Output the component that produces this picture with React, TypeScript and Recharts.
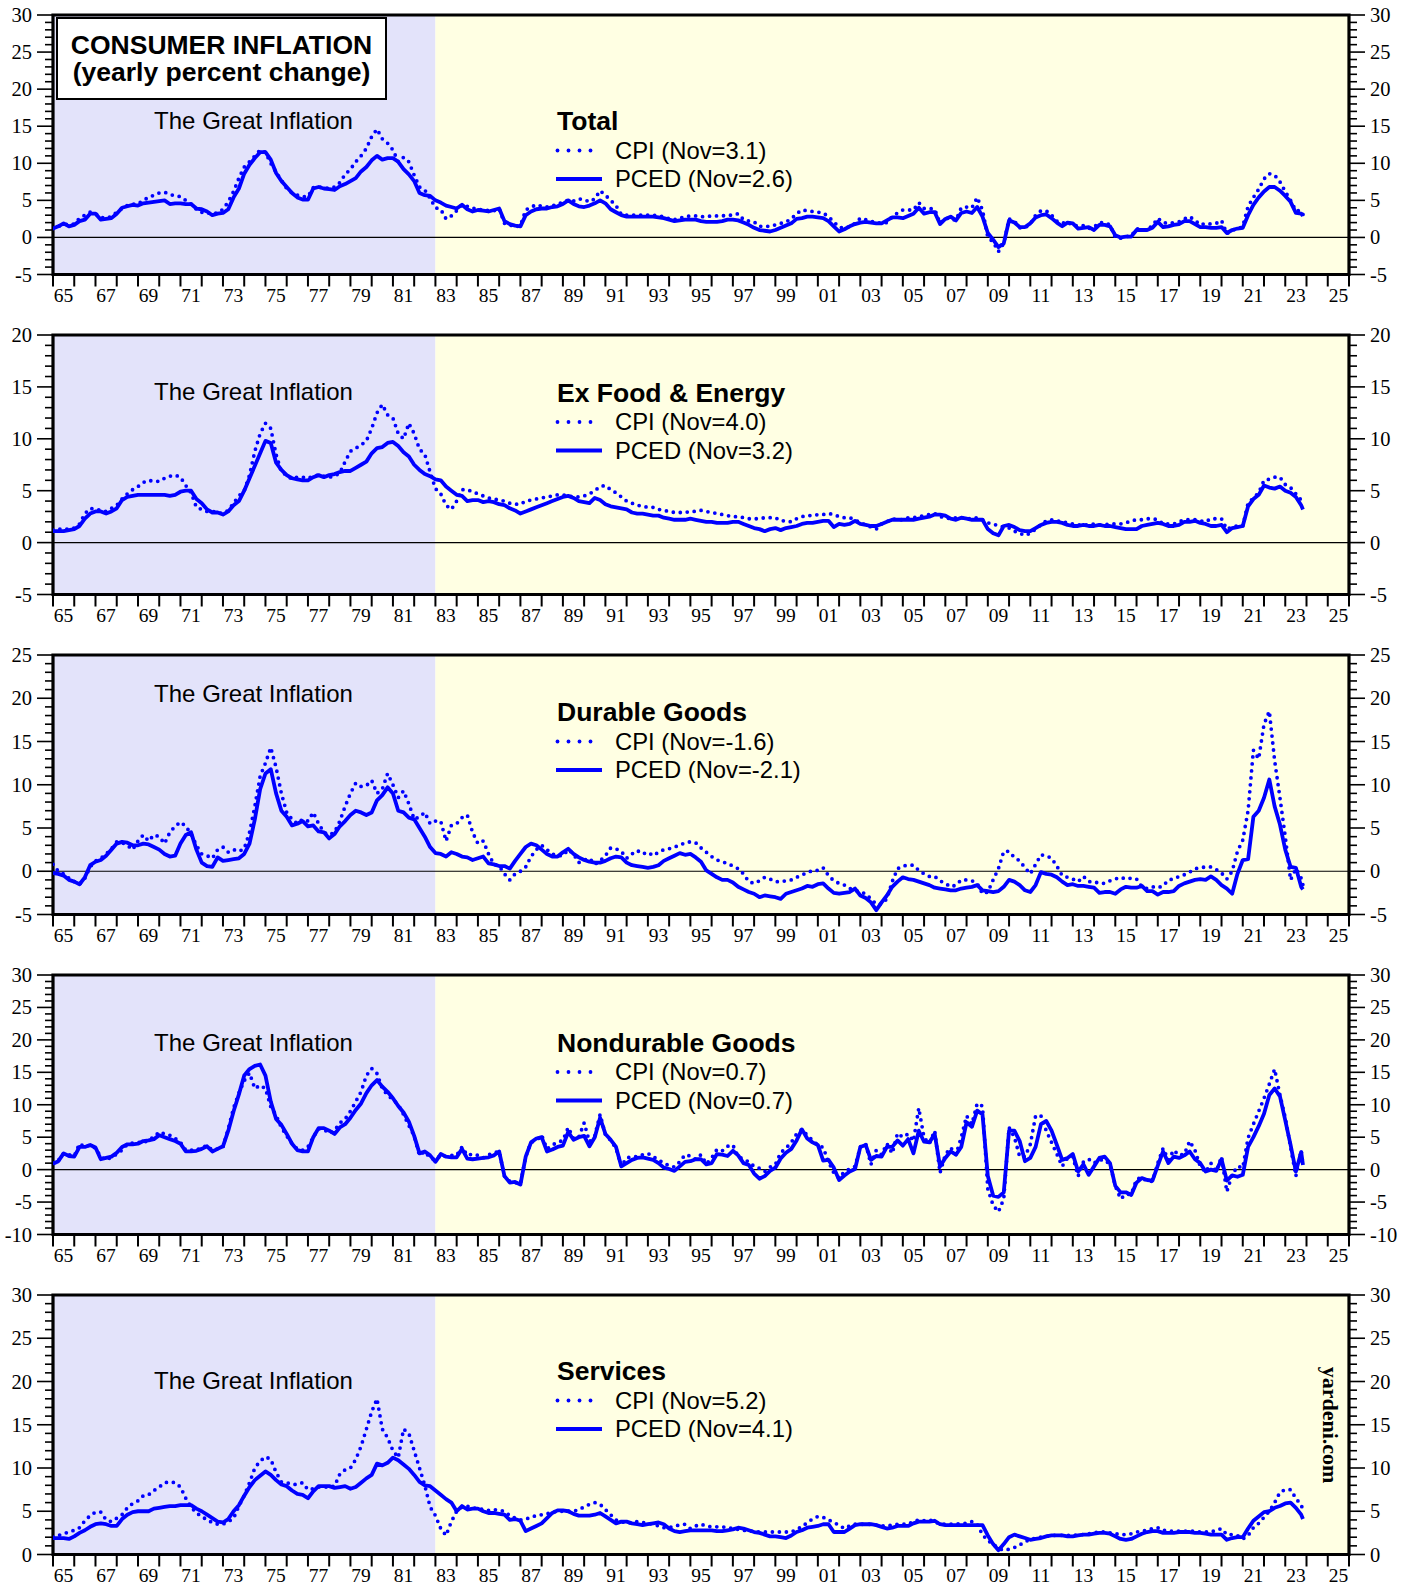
import React from "react";
import { LineChart, Line, XAxis, YAxis, ReferenceArea, ReferenceLine } from "recharts";

// ---------- categories ----------
const START_YEAR = 1965;
const QUARTERS = 236; // 1965Q1 .. 2023Q4
const LAST_MONTH = 2023 + 10 / 12; // Nov 2023
const dates: number[] = Array.from({ length: QUARTERS }, (_, i) => START_YEAR + i / 4).concat([LAST_MONTH]);
const yearTicks: number[] = Array.from({ length: 62 }, (_, i) => 1965 + i);
const GREAT_INFLATION_END = 1983;

// ---------- series (yearly % change), quarterly 1965..2023 + Nov 2023 ----------
const totalCpi = [
  1.2, 1.5, 1.7, 1.8, 1.8, 2.6, 3.0, 3.4, 3.2, 2.7, 2.6, 2.8, 3.4, 3.9, 4.3, 4.5,
  4.5, 5.0, 5.4, 5.7, 6.0, 6.1, 5.8, 5.6, 5.5, 5.0, 4.5, 3.8, 3.4, 3.3, 3.2, 3.3,
  3.8, 4.8, 6.2, 8.0, 9.5, 10.2, 11.0, 11.8, 11.5, 10.0, 8.8, 7.7, 6.6, 6.0, 5.7, 5.5,
  5.5, 6.7, 6.8, 6.7, 6.6, 6.8, 7.4, 8.5, 9.2, 10.2, 11.0, 12.0, 13.6, 14.6, 13.3, 12.7,
  11.8, 10.2, 10.8, 10.2, 8.4, 6.8, 6.4, 5.3, 4.0, 3.8, 2.5, 2.9, 3.6, 4.4, 4.2, 4.0,
  3.7, 3.8, 3.6, 3.6, 3.9, 1.9, 1.7, 1.4, 1.6, 3.7, 4.1, 4.4, 4.2, 4.1, 4.3, 4.4,
  4.8, 5.0, 4.9, 5.2, 5.1, 4.8, 5.2, 6.3, 5.7, 5.0, 4.3, 3.1, 3.0, 3.0, 3.0, 3.0,
  3.0, 3.0, 2.9, 2.8, 2.5, 2.4, 2.6, 2.8, 2.9, 2.9, 2.8, 2.8, 2.9, 2.9, 2.9, 3.0,
  3.0, 3.2, 2.4, 2.2, 2.1, 1.5, 1.5, 1.5, 1.7, 1.9, 2.1, 2.5, 3.2, 3.7, 3.6, 3.5,
  3.4, 3.3, 2.8, 2.1, 1.4, 1.2, 1.5, 1.9, 2.6, 2.4, 2.2, 2.0, 1.9, 2.0, 2.8, 3.3,
  3.7, 3.7, 3.7, 4.7, 3.9, 3.9, 3.8, 1.9, 2.6, 2.5, 2.3, 4.0, 4.1, 4.0, 5.4, 3.7,
  0.0, -0.6, -1.9, -0.8, 2.5, 2.2, 1.3, 1.3, 1.8, 3.0, 3.6, 3.6, 3.0, 2.2, 1.9, 2.1,
  1.6, 1.6, 1.6, 1.2, 1.4, 2.0, 2.0, 1.7, 0.0, -0.1, 0.1, 0.2, 1.2, 1.0, 1.0, 1.6,
  2.6, 2.0, 1.9, 2.0, 2.1, 2.5, 2.8, 2.3, 1.7, 1.9, 1.8, 1.9, 2.3, 0.5, 1.0, 1.1,
  1.5, 4.2, 5.4, 6.5, 7.9, 8.6, 8.4, 7.5, 6.2, 5.0, 3.6, 3.6,
  3.1,
];
const totalPced = [
  1.2, 1.5, 1.9, 1.5, 1.7, 2.2, 2.4, 3.2, 3.2, 2.4, 2.5, 2.6, 3.2, 4.0, 4.2, 4.4,
  4.3, 4.6, 4.7, 4.8, 4.9, 5.0, 4.5, 4.6, 4.6, 4.5, 4.5, 3.9, 3.8, 3.5, 3.0, 3.2,
  3.3, 3.8, 5.4, 6.6, 8.6, 9.8, 10.7, 11.5, 11.5, 10.5, 8.7, 7.6, 6.8, 6.0, 5.4, 5.1,
  5.1, 6.6, 6.8, 6.6, 6.5, 6.4, 6.9, 7.2, 7.6, 8.0, 8.9, 9.5, 10.4, 11.0, 10.5, 10.7,
  10.7, 10.2, 9.2, 8.5, 7.6, 6.0, 5.7, 5.6, 5.0, 4.7, 4.3, 4.1, 3.9, 4.4, 3.8, 3.5,
  3.7, 3.6, 3.5, 3.7, 3.9, 2.2, 1.8, 1.6, 1.5, 3.0, 3.5, 3.8, 3.9, 3.9, 4.1, 4.2,
  4.5, 5.0, 4.5, 4.2, 4.1, 4.3, 4.6, 5.0, 4.6, 3.8, 3.4, 3.0, 2.8, 2.8, 2.8, 2.8,
  2.8, 2.8, 2.7, 2.6, 2.4, 2.2, 2.3, 2.4, 2.4, 2.4, 2.2, 2.1, 2.1, 2.1, 2.2, 2.4,
  2.4, 2.3, 2.0, 1.7, 1.3, 1.0, 0.9, 0.8, 1.0, 1.3, 1.6, 1.9, 2.5, 2.6, 2.8, 2.8,
  2.7, 2.6, 2.2, 1.5, 0.8, 1.1, 1.5, 1.8, 2.0, 2.1, 2.0, 1.9, 1.9, 2.3, 2.7, 2.7,
  2.6, 2.9, 3.2, 4.0, 3.2, 3.4, 3.4, 1.8, 2.5, 2.8, 2.3, 3.3, 3.5, 3.3, 4.1, 2.8,
  0.6, -0.3, -1.3, -0.8, 2.3, 2.0, 1.4, 1.4, 1.9, 2.7, 3.0, 3.1, 2.6, 2.0, 1.5, 2.0,
  1.9, 1.2, 1.3, 1.4, 1.0, 1.7, 1.7, 1.5, 0.3, 0.0, 0.1, 0.1, 1.0, 1.0, 1.0, 1.3,
  2.1, 1.4, 1.5, 1.7, 1.8, 2.2, 2.2, 1.8, 1.4, 1.4, 1.3, 1.3, 1.4, 0.6, 1.0, 1.2,
  1.3, 3.0, 4.4, 5.4, 6.2, 6.8, 6.8, 6.3, 5.6, 4.8, 3.3, 3.2,
  2.9,
];
const coreCpi = [
  1.2, 1.3, 1.3, 1.3, 1.4, 1.8, 2.8, 3.3, 3.2, 3.1, 3.0, 3.3, 3.6, 4.2, 4.7, 5.1,
  5.4, 5.8, 6.0, 5.9, 5.9, 6.2, 6.4, 6.5, 6.3, 5.5, 4.8, 3.4, 3.2, 3.0, 3.0, 2.9,
  2.8, 3.1, 3.8, 4.5, 5.0, 6.5, 8.8, 10.5, 11.5, 11.0, 8.5, 6.8, 6.5, 6.1, 6.3, 6.3,
  6.2, 6.4, 6.5, 6.4, 6.3, 6.4, 6.7, 7.8, 8.8, 9.1, 9.4, 9.8, 11.0, 12.5, 13.3, 12.3,
  12.0, 10.5, 10.0, 11.5, 10.5, 9.0, 8.5, 6.8, 5.2, 4.7, 3.6, 3.2, 4.0, 5.1, 5.1, 4.9,
  4.7, 4.5, 4.3, 4.2, 4.1, 4.0, 3.8, 3.7, 3.7, 4.0, 4.1, 4.2, 4.3, 4.4, 4.5, 4.6,
  4.6, 4.5, 4.4, 4.4, 4.5, 4.7, 5.0, 5.4, 5.5, 5.1, 4.8, 4.4, 4.0, 3.8, 3.6, 3.5,
  3.4, 3.4, 3.2, 3.1, 3.0, 2.9, 2.9, 2.9, 3.0, 3.0, 3.1, 3.0, 2.9, 2.8, 2.7, 2.6,
  2.5, 2.5, 2.4, 2.3, 2.3, 2.3, 2.4, 2.4, 2.4, 2.1, 2.1, 2.0, 2.3, 2.5, 2.6, 2.6,
  2.7, 2.7, 2.8, 2.7, 2.5, 2.4, 2.4, 2.2, 1.9, 1.7, 1.5, 1.3, 1.8, 2.0, 2.3, 2.2,
  2.2, 2.4, 2.4, 2.5, 2.6, 2.7, 2.8, 2.5, 2.4, 2.3, 2.4, 2.4, 2.3, 2.3, 2.4, 2.2,
  1.9, 1.8, 1.6, 1.5, 1.4, 1.1, 0.9, 0.7, 0.9, 1.3, 1.7, 2.1, 2.2, 2.1, 2.0, 1.9,
  1.8, 1.7, 1.7, 1.7, 1.8, 1.7, 1.7, 1.8, 1.8, 1.8, 1.9, 2.1, 2.2, 2.2, 2.3, 2.3,
  2.2, 1.8, 1.8, 1.8, 2.0, 2.2, 2.2, 2.2, 2.1, 2.0, 2.3, 2.3, 2.3, 1.3, 1.5, 1.6,
  1.6, 3.8, 4.3, 4.8, 6.0, 6.1, 6.3, 6.3, 5.6, 5.3, 4.7, 4.1,
  4.0,
];
const corePced = [
  1.1, 1.1, 1.1, 1.2, 1.3, 1.6, 2.3, 2.8, 3.0, 3.0, 2.8, 3.0, 3.3, 4.1, 4.4, 4.5,
  4.6, 4.6, 4.6, 4.6, 4.6, 4.6, 4.5, 4.6, 4.9, 5.0, 5.0, 4.2, 3.8, 3.2, 2.9, 2.9,
  2.7, 3.0, 3.6, 4.0, 5.0, 6.2, 7.4, 8.6, 9.8, 9.6, 7.7, 7.0, 6.5, 6.2, 6.1, 6.0,
  6.0, 6.3, 6.5, 6.3, 6.5, 6.6, 6.8, 6.9, 6.9, 7.2, 7.5, 7.8, 8.6, 9.1, 9.2, 9.6,
  9.7, 9.3, 8.7, 8.3, 7.5, 7.0, 6.6, 6.4, 6.1, 6.0, 5.4, 5.0, 4.6, 4.5, 4.0, 4.1,
  4.1, 3.9, 4.0, 3.9, 3.7, 3.6, 3.3, 3.1, 2.8, 3.0, 3.2, 3.4, 3.6, 3.8, 4.0, 4.2,
  4.4, 4.5, 4.3, 4.0, 3.9, 3.8, 4.3, 4.1, 3.7, 3.5, 3.4, 3.3, 3.2, 2.9, 2.8, 2.8,
  2.7, 2.6, 2.6, 2.4, 2.3, 2.2, 2.2, 2.2, 2.3, 2.2, 2.1, 2.0, 2.0, 1.9, 1.9, 1.9,
  2.0, 2.0, 1.8, 1.6, 1.4, 1.3, 1.1, 1.3, 1.4, 1.2, 1.4, 1.5, 1.6, 1.8, 1.9, 1.9,
  2.0, 2.1, 2.1, 1.5, 1.8, 1.7, 1.8, 2.1, 1.8, 1.7, 1.6, 1.6, 1.8, 2.0, 2.2, 2.2,
  2.2, 2.2, 2.2, 2.3, 2.4, 2.5, 2.7, 2.7, 2.6, 2.3, 2.2, 2.4, 2.3, 2.2, 2.2, 2.2,
  1.3, 0.9, 0.7, 1.6, 1.7, 1.5, 1.2, 1.1, 1.1, 1.4, 1.7, 1.9, 2.0, 2.0, 1.9, 1.7,
  1.6, 1.6, 1.7, 1.6, 1.6, 1.7, 1.6, 1.6, 1.5, 1.4, 1.3, 1.3, 1.3, 1.6, 1.7, 1.8,
  1.9, 1.8, 1.6, 1.6, 1.7, 2.0, 2.0, 2.1, 1.9, 1.8, 1.6, 1.6, 1.7, 1.0, 1.4, 1.5,
  1.6, 3.5, 4.2, 4.6, 5.5, 5.3, 5.2, 5.4, 5.0, 4.8, 4.4, 3.6,
  3.2,
];
const durCpi = [
  0.8, 0.0, -0.3, -0.8, -1.2, -1.5, -0.8, 0.5, 1.2, 1.5, 2.0, 2.6, 3.4, 3.3, 3.0, 2.5,
  3.5, 4.2, 3.5, 4.2, 4.0, 3.2, 4.5, 5.2, 5.7, 5.2, 4.3, 3.0, 2.0, 1.8, 1.5, 2.5,
  2.8, 2.2, 2.5, 2.3, 2.6, 4.5, 7.5, 11.0, 12.5, 14.3, 12.0, 9.0, 6.8, 6.0, 5.5, 6.0,
  5.8, 6.8, 5.5, 4.5, 4.2, 4.5, 5.8, 7.5, 9.0, 10.2, 9.8, 9.9, 10.5, 9.0, 9.5, 11.3,
  10.0, 8.5, 9.3, 7.8, 6.0, 6.3, 6.8, 5.5, 5.8, 5.8, 3.5, 5.3, 5.5, 6.2, 6.5, 4.5,
  3.2, 3.5, 2.0, 0.8, 0.6, -0.3, -1.0, -0.3, 0.0, 0.5, 1.7, 2.5, 3.0, 2.5, 2.0, 1.8,
  1.8, 2.5, 2.0, 1.0, 1.3, 1.5, 0.8, 1.2, 1.8, 2.7, 2.6, 2.3, 1.5, 2.0, 2.4, 2.0,
  2.2, 1.8, 2.2, 2.5, 2.6, 2.8, 3.0, 3.3, 3.4, 3.3, 2.7, 2.2, 1.7, 1.3, 1.1, 0.9,
  0.6, 0.3, -0.3, -1.2, -1.4, -1.1, -0.7, -0.9, -1.2, -1.2, -1.1, -1.0, -0.7, -0.4, -0.2, 0.1,
  0.1, 0.4, -0.5, -1.1, -1.4, -1.6, -2.0, -2.2, -2.4, -2.6, -3.2, -3.8, -3.8, -3.2, -1.2, 0.3,
  0.6, 0.7, 0.7, 0.1, -0.3, -0.6, -0.6, -1.1, -1.4, -1.8, -1.6, -1.0, -1.0, -1.1, -1.4, -2.6,
  -2.4, -1.0, 0.3, 2.3, 2.3, 1.6, 1.2, 0.4, -0.3, 0.8, 1.9, 1.8, 1.5, 0.6, -0.5, -0.7,
  -0.9, -1.2, -0.6, -1.2, -1.2, -1.4, -1.4, -1.1, -0.9, -0.7, -0.9, -0.8, -0.9, -1.8, -2.0, -1.8,
  -1.9, -1.7, -1.0, -0.9, -0.6, -0.4, -0.1, 0.3, 0.4, 0.5, 0.5, 0.2, -0.2, -0.9, 0.0, 2.3,
  3.6, 7.0, 14.0, 13.0, 17.0, 18.5, 12.8, 8.5, 4.0, -1.0, 0.3, -0.8,
  -1.6,
];
const durPced = [
  -0.2, -0.3, -0.5, -1.0, -1.2, -1.5, -0.7, 0.7, 1.1, 1.3, 1.8, 2.5, 3.2, 3.4, 3.3, 3.0,
  3.0, 3.2, 3.1, 2.8, 2.5, 2.0, 1.7, 1.8, 3.2, 4.2, 4.5, 2.5, 1.0, 0.6, 0.5, 1.6,
  1.2, 1.3, 1.4, 1.5, 2.0, 3.2, 6.0, 9.5, 11.3, 11.8, 9.0, 7.0, 6.3, 5.3, 5.5, 5.8,
  5.2, 5.3, 4.6, 4.5, 3.8, 4.3, 5.2, 5.8, 6.5, 7.0, 6.8, 6.5, 6.8, 8.2, 8.8, 9.7,
  9.0, 7.0, 6.8, 6.2, 6.0, 5.0, 4.0, 2.8, 2.1, 2.0, 1.7, 2.2, 2.0, 1.7, 1.6, 1.3,
  1.5, 1.7, 0.9, 0.8, 0.6, 0.6, 0.3, 1.2, 2.0, 2.8, 3.2, 3.0, 2.5, 2.0, 1.7, 1.7,
  2.2, 2.6, 2.0, 1.6, 1.3, 1.1, 1.0, 1.0, 1.2, 1.5, 1.7, 1.6, 1.0, 0.7, 0.6, 0.5,
  0.4, 0.5, 0.7, 1.2, 1.5, 1.8, 2.1, 1.9, 2.0, 1.6, 1.1, 0.1, -0.3, -0.7, -1.0, -1.0,
  -1.3, -1.8, -2.1, -2.4, -2.6, -3.0, -2.8, -2.9, -3.0, -3.2, -2.6, -2.4, -2.2, -2.0, -1.7, -1.8,
  -1.5, -1.4, -2.0, -2.5, -2.6, -2.5, -2.4, -2.0, -2.8, -3.1, -3.6, -4.5, -3.6, -2.8, -1.8, -1.2,
  -0.7, -0.9, -1.0, -1.2, -1.4, -1.6, -1.9, -2.0, -2.1, -2.2, -2.2, -2.0, -1.9, -1.8, -1.6, -2.2,
  -2.3, -2.4, -2.3, -1.8, -1.0, -1.2, -1.6, -2.2, -2.4, -1.6, -0.1, -0.3, -0.4, -0.7, -1.2, -1.6,
  -1.5, -1.7, -1.7, -1.8, -1.9, -2.5, -2.4, -2.4, -2.6, -2.1, -1.8, -1.9, -1.9, -1.7, -2.3, -2.3,
  -2.7, -2.4, -2.4, -2.3, -1.7, -1.4, -1.2, -1.0, -0.9, -1.0, -0.6, -1.0, -1.6, -2.0, -2.6, -0.3,
  1.3, 1.4, 6.3, 7.0, 8.5, 10.6, 7.5, 5.4, 2.5, 0.5, 0.4, -1.8,
  -2.1,
];
const nondurCpi = [
  1.0, 1.4, 2.5, 2.3, 2.1, 4.0, 3.5, 3.8, 3.3, 2.0, 1.5, 1.9, 2.4, 3.0, 3.9, 4.1,
  4.2, 4.1, 4.6, 5.0, 5.8, 5.5, 5.3, 4.8, 4.2, 3.0, 3.0, 3.0, 3.4, 3.7, 3.0, 3.2,
  3.5, 6.3, 9.5, 11.8, 13.7, 14.9, 12.5, 13.0, 12.5, 9.7, 8.4, 6.5, 5.2, 4.0, 3.2, 3.0,
  3.5, 5.0, 6.3, 6.2, 5.6, 6.0, 7.2, 7.8, 9.0, 10.5, 12.0, 14.5, 15.6, 14.8, 12.5, 11.5,
  10.8, 10.0, 8.5, 6.8, 5.2, 2.2, 2.8, 1.8, 1.5, 2.2, 2.0, 2.2, 2.2, 3.5, 2.2, 2.4,
  2.2, 1.8, 2.3, 2.6, 2.8, -1.0, -1.8, -2.0, -2.2, 2.0, 4.2, 4.5, 5.3, 3.2, 3.8, 4.2,
  4.5, 6.5, 4.8, 5.0, 7.2, 4.3, 5.2, 8.5, 5.4, 4.5, 3.3, 0.5, 1.8, 2.0, 2.0, 2.3,
  2.5, 2.0, 1.5, 1.0, 0.6, 0.4, 1.2, 2.3, 2.1, 1.6, 2.3, 0.9, 1.8, 3.1, 2.9, 3.6,
  3.8, 2.0, 1.6, 1.2, 0.5, 0.2, -0.3, 0.4, 0.8, 2.6, 3.3, 4.2, 5.5, 6.2, 5.3, 4.5,
  3.8, 3.4, 1.2, -0.5, -1.3, -0.3, 0.1, 0.5, 3.5, 4.0, 0.8, 3.0, 2.3, 4.0, 2.5, 5.6,
  5.0, 5.5, 4.4, 9.5, 4.9, 4.0, 6.0, -0.5, 2.3, 3.4, 2.3, 5.0, 8.3, 7.0, 10.2, 9.8,
  -3.0, -5.5, -6.5, -4.5, 6.5, 5.0, 2.0, 2.0, 3.9, 8.3, 8.3, 6.0, 4.2, 2.4, 0.5, 1.8,
  2.0, -1.0, 1.2, 1.6, 1.0, 1.5, 1.5, 0.8, -2.5, -4.5, -3.8, -3.8, -1.5, -1.2, -1.8, -1.8,
  1.0, 3.3, 1.5, 3.0, 2.2, 2.4, 4.4, 3.0, 0.5, -0.4, 1.0, -0.3, 2.0, -3.4, -0.8, 0.5,
  0.3, 4.9, 7.0, 9.0, 11.0, 13.2, 15.5, 11.5, 8.0, 3.5, -1.0, 3.0,
  0.7,
];
const nondurPced = [
  0.9, 1.3, 2.5, 2.1, 2.0, 3.5, 3.5, 3.8, 3.4, 1.6, 1.8, 2.0, 2.6, 3.5, 3.9, 3.9,
  4.0, 4.4, 4.5, 4.7, 5.3, 5.0, 4.7, 4.4, 4.0, 2.8, 2.8, 2.9, 3.2, 3.6, 2.8, 3.2,
  3.6, 6.0, 9.0, 11.6, 14.5, 15.5, 16.0, 16.2, 14.5, 10.5, 7.8, 6.9, 5.5, 4.0, 3.0, 2.8,
  2.8, 5.0, 6.4, 6.4, 6.0, 5.5, 6.5, 7.0, 8.0, 9.2, 10.2, 11.8, 13.0, 13.8, 12.8, 12.0,
  11.0, 9.8, 8.8, 7.4, 5.2, 2.5, 2.8, 2.2, 1.2, 2.4, 2.0, 1.9, 1.9, 3.2, 1.7, 1.6,
  1.7, 1.8, 1.9, 2.2, 2.8, -1.0, -2.0, -1.9, -2.3, 2.0, 4.2, 4.8, 5.0, 2.8, 3.1, 3.5,
  3.7, 5.8, 4.6, 5.0, 5.2, 3.6, 5.0, 8.0, 5.5, 4.6, 3.5, 0.5, 1.0, 1.5, 1.8, 1.9,
  1.7, 1.5, 1.0, 0.3, 0.1, -0.2, 0.5, 1.2, 1.3, 1.6, 1.6, 0.8, 1.0, 2.4, 2.3, 2.1,
  2.9, 2.2, 1.0, 0.7, -0.6, -1.4, -1.0, -0.2, 0.3, 1.7, 2.6, 3.2, 4.5, 6.2, 4.8, 4.2,
  3.8, 1.4, 1.5, 0.3, -1.6, -0.9, -0.3, 0.1, 3.5, 3.8, 1.5, 2.1, 2.0, 3.5, 3.5, 4.5,
  3.7, 4.7, 2.5, 6.0, 4.3, 4.2, 5.5, 0.5, 1.8, 2.8, 2.3, 3.5, 7.3, 6.6, 9.1, 8.5,
  -1.0, -4.0, -4.2, -3.5, 6.0, 6.0, 4.4, 1.3, 1.8, 3.5, 7.0, 7.5, 6.0, 3.8, 1.5, 1.8,
  2.4, -0.3, 0.8, -0.8, 0.5, 1.8, 2.0, 1.0, -2.5, -3.5, -3.5, -3.9, -2.0, -1.3, -1.6, -1.7,
  0.6, 2.8, 1.0, 2.0, 1.8, 2.2, 2.8, 1.6, 1.0, -0.3, 0.0, -0.2, 1.6, -1.7, -0.9, -1.1,
  -0.8, 3.5, 5.0, 6.7, 8.6, 11.5, 12.5, 11.3, 7.6, 3.8, -0.3, 2.7,
  0.7,
];
const servCpi = [
  2.0, 2.2, 2.4, 2.6, 2.8, 3.1, 3.9, 4.5, 4.9, 4.9, 4.0, 3.8, 4.2, 4.6, 5.4, 5.9,
  6.2, 6.8, 6.9, 7.4, 7.8, 8.3, 8.4, 8.3, 7.8, 6.5, 5.5, 4.8, 4.4, 4.0, 3.7, 3.5,
  3.5, 3.8, 4.2, 5.6, 6.8, 8.3, 10.0, 10.8, 11.3, 11.0, 9.5, 8.4, 8.3, 8.1, 8.1, 8.3,
  7.5, 7.6, 7.8, 7.8, 7.8, 7.9, 9.3, 9.8, 10.0, 11.0, 12.5, 14.5, 16.5, 18.0, 14.5, 13.5,
  12.0, 11.2, 14.5, 14.0, 12.0, 10.0, 8.0, 5.5, 4.5, 3.0, 2.2, 3.8, 5.0, 5.5, 5.6, 5.4,
  5.3, 5.2, 5.1, 5.2, 5.1, 5.0, 4.5, 4.2, 4.0, 4.1, 4.3, 4.5, 4.6, 4.7, 4.9, 5.0,
  5.0, 5.0, 5.0, 5.2, 5.5, 5.8, 6.0, 5.8, 5.2, 4.6, 4.0, 3.8, 3.6, 3.7, 3.8, 3.7,
  3.6, 3.5, 3.3, 3.1, 3.1, 3.3, 3.4, 3.5, 3.0, 3.3, 3.5, 3.3, 3.2, 3.2, 3.2, 3.1,
  3.0, 2.9, 2.8, 2.7, 2.7, 2.6, 2.6, 2.6, 2.6, 2.6, 2.6, 2.6, 2.9, 3.2, 3.7, 4.1,
  4.4, 4.3, 4.0, 3.7, 3.4, 3.0, 3.3, 3.5, 3.5, 3.5, 3.5, 3.4, 3.3, 3.3, 3.4, 3.5,
  3.5, 3.5, 3.8, 4.0, 3.9, 4.0, 3.8, 3.5, 3.5, 3.5, 3.5, 3.6, 3.6, 3.8, 3.5, 2.3,
  1.6, 1.2, 0.7, 0.5, 0.6, 0.8, 1.1, 1.5, 1.7, 1.9, 2.0, 2.1, 2.2, 2.2, 2.2, 2.2,
  2.2, 2.3, 2.3, 2.4, 2.5, 2.6, 2.6, 2.5, 2.4, 2.3, 2.3, 2.4, 2.6, 2.7, 2.8, 3.0,
  3.1, 2.8, 2.7, 2.7, 2.7, 2.7, 2.7, 2.7, 2.6, 2.6, 2.6, 2.8, 3.0, 2.3, 2.3, 2.2,
  1.8, 2.2, 3.1, 3.6, 4.3, 5.0, 6.0, 7.2, 7.5, 7.5, 6.5, 5.7,
  5.2,
];
const servPced = [
  1.9, 1.9, 1.9, 1.8, 2.1, 2.5, 2.8, 3.2, 3.5, 3.6, 3.5, 3.3, 3.3, 4.1, 4.6, 4.9,
  5.0, 5.0, 5.0, 5.3, 5.4, 5.5, 5.6, 5.6, 5.7, 5.7, 5.7, 5.3, 5.0, 4.6, 4.2, 3.8,
  3.7, 4.1, 5.0, 5.7, 6.8, 7.8, 8.6, 9.1, 9.6, 9.2, 8.6, 8.1, 7.9, 7.4, 7.0, 6.9,
  6.5, 7.3, 7.9, 7.9, 7.9, 7.7, 7.8, 7.9, 7.6, 7.8, 8.3, 8.8, 9.2, 10.5, 10.3, 10.6,
  11.2, 10.9, 10.4, 9.9, 9.2, 8.4, 8.0, 7.9, 7.4, 6.9, 6.4, 6.0, 5.0, 5.6, 5.2, 5.3,
  5.3, 5.0, 4.8, 4.8, 4.7, 4.6, 4.0, 4.1, 3.9, 2.7, 3.0, 3.3, 3.6, 4.2, 4.8, 5.1,
  5.1, 5.0, 4.7, 4.5, 4.5, 4.5, 4.6, 4.8, 4.4, 4.0, 3.6, 3.8, 3.8, 3.6, 3.5, 3.4,
  3.5, 3.6, 3.7, 3.5, 3.0, 2.7, 2.6, 2.7, 2.8, 2.8, 2.8, 2.8, 2.8, 2.7, 2.7, 2.8,
  2.9, 3.1, 3.0, 2.8, 2.6, 2.5, 2.3, 2.1, 2.1, 2.0, 1.9, 2.2, 2.6, 2.8, 3.1, 3.2,
  3.3, 3.5, 3.5, 2.6, 2.6, 2.6, 3.0, 3.4, 3.5, 3.5, 3.5, 3.4, 3.2, 3.0, 3.1, 3.3,
  3.3, 3.3, 3.6, 3.8, 3.8, 3.8, 3.9, 3.5, 3.4, 3.4, 3.4, 3.4, 3.4, 3.4, 3.4, 3.4,
  2.2, 1.2, 0.5, 1.2, 2.0, 2.3, 2.1, 1.9, 1.7, 1.8, 1.9, 2.1, 2.2, 2.2, 2.2, 2.1,
  2.1, 2.2, 2.3, 2.3, 2.4, 2.5, 2.5, 2.4, 2.1, 1.8, 1.7, 1.8, 2.1, 2.4, 2.6, 2.7,
  2.7, 2.5, 2.5, 2.5, 2.6, 2.6, 2.6, 2.5, 2.5, 2.4, 2.3, 2.3, 2.3, 1.7, 1.9, 2.0,
  2.0, 3.0, 3.9, 4.4, 4.9, 5.0, 5.4, 5.6, 5.9, 6.0, 5.4, 4.6,
  4.1,
];

// ---------- panel definitions ----------
const panelTitles = ["Total", "Ex Food & Energy", "Durable Goods", "Nondurable Goods", "Services"];
const cpiLatest = ["3.1", "4.0", "-1.6", "0.7", "5.2"];
const pcedLatest = ["2.6", "3.2", "-2.1", "0.7", "4.1"];
const yDomains: [number, number][] = [[-5, 30], [-5, 20], [-5, 25], [-10, 30], [0, 30]];
const cpiSeries = [totalCpi, coreCpi, durCpi, nondurCpi, servCpi];
const pcedSeries = [totalPced, corePced, durPced, nondurPced, servPced];

// ---------- layout ----------
const W = 1414;
const PAGE_H = 1585;
const PLOT_L = 53;
const PLOT_R = 1349;
const PLOT_H = 259.5;
const TOP_M = 15;
const CHART_H = 320;
const panelTops = [15, 335, 655, 975, 1295];
const giBaselines = [129, 400, 701.5, 1051, 1389];
const legendBaselines = [130, 401.5, 721, 1051.5, 1380];
const BLUE = "#0000FF";
const SERIF = "'Liberation Serif', 'Times New Roman', serif";
const SANS = "'Liberation Sans', Arial, Helvetica, sans-serif";
const LAVENDER = "#E3E3FA";
const CREAM = "#FFFFE3";
const YEAR_PX = (PLOT_R - PLOT_L) / 61;

function rows(cpi: number[], pced: number[]) {
  return dates.map((t, i) => ({ t, cpi: cpi[i], pced: pced[i] }));
}

function range(a: number, b: number) {
  const out: number[] = [];
  for (let v = a; v <= b; v++) out.push(v);
  return out;
}

const LeftTick = (props: any) => {
  const { y, payload } = props;
  const v = payload.value;
  const major = v % 5 === 0;
  return (
    <g>
      <line x1={PLOT_L - (major ? 16 : 8)} x2={PLOT_L} y1={y} y2={y} stroke="#000" strokeWidth={1.6} />
      {major && (
        <text x={32} y={y + 7} textAnchor="end" fontFamily={SERIF} fontSize={20.5} fill="#000">
          {v}
        </text>
      )}
    </g>
  );
};

const RightTick = (props: any) => {
  const { y, payload } = props;
  const v = payload.value;
  const major = v % 5 === 0;
  return (
    <g>
      <line x1={PLOT_R} x2={PLOT_R + (major ? 16 : 8)} y1={y} y2={y} stroke="#000" strokeWidth={1.6} />
      {major && (
        <text x={1370} y={y + 7} textAnchor="start" fontFamily={SERIF} fontSize={20.5} fill="#000">
          {v}
        </text>
      )}
    </g>
  );
};

const BottomTick = (props: any) => {
  const { x, payload } = props;
  const yr = payload.value as number;
  const base = TOP_M + PLOT_H;
  const label = yr % 2 === 1 && yr < 2026 ? String(yr % 100).padStart(2, "0") : null;
  return (
    <g>
      <line x1={x} x2={x} y1={base} y2={base + 12} stroke="#000" strokeWidth={2} />
      {label && (
        <text x={x + YEAR_PX / 2} y={base + 27.5} textAnchor="middle" fontFamily={SERIF} fontSize={19.5} fill="#000">
          {label}
        </text>
      )}
    </g>
  );
};

function Panel({ idx }: { idx: number }) {
  const [lo, hi] = yDomains[idx];
  const data = rows(cpiSeries[idx], pcedSeries[idx]);
  const yt = range(lo, hi);
  return (
    <div style={{ position: "absolute", left: 0, top: panelTops[idx] - TOP_M }}>
      <LineChart width={W} height={CHART_H} data={data} margin={{ top: TOP_M, right: 0, bottom: 0, left: 0 }}>
        <XAxis
          type="number"
          dataKey="t"
          domain={[1965, 2026]}
          ticks={yearTicks}
          interval={0}
          allowDataOverflow
          height={CHART_H - TOP_M - PLOT_H}
          axisLine={false}
          tickLine={false}
          tick={(p: any) => <BottomTick {...p} />}
        />
        <YAxis
          yAxisId="l"
          orientation="left"
          type="number"
          domain={[lo, hi]}
          ticks={yt}
          interval={0}
          allowDataOverflow
          width={PLOT_L}
          axisLine={false}
          tickLine={false}
          tick={(p: any) => <LeftTick {...p} />}
        />
        <YAxis
          yAxisId="r"
          orientation="right"
          type="number"
          domain={[lo, hi]}
          ticks={yt}
          interval={0}
          allowDataOverflow
          width={W - PLOT_R}
          axisLine={false}
          tickLine={false}
          tick={(p: any) => <RightTick {...p} />}
        />
        <ReferenceArea yAxisId="l" x1={1965} x2={GREAT_INFLATION_END} y1={lo} y2={hi} fill={LAVENDER} fillOpacity={1} stroke="none" />
        <ReferenceArea yAxisId="l" x1={GREAT_INFLATION_END} x2={2026} y1={lo} y2={hi} fill={CREAM} fillOpacity={1} stroke="none" />
        <ReferenceLine yAxisId="l" y={0} stroke="#000" strokeWidth={1.2} />
        <Line
          yAxisId="l"
          type="linear"
          dataKey="pced"
          stroke={BLUE}
          strokeWidth={3.8}
          strokeLinejoin="round"
          dot={false}
          isAnimationActive={false}
        />
        <Line
          yAxisId="l"
          type="linear"
          dataKey="cpi"
          stroke={BLUE}
          strokeWidth={3.8}
          strokeDasharray="0 7"
          strokeLinecap="round"
          dot={false}
          isAnimationActive={false}
        />
        <ReferenceArea yAxisId="l" x1={1965} x2={2026} y1={lo} y2={hi} fill="none" stroke="#000" strokeWidth={3.2} />
      </LineChart>
    </div>
  );
}

function Legend({ idx }: { idx: number }) {
  const y = legendBaselines[idx];
  return (
    <g>
      <text x={557} y={y} fontFamily={SANS} fontWeight="bold" fontSize={26.5} fill="#000">
        {panelTitles[idx]}
      </text>
      {[0, 1, 2, 3].map((k) => (
        <circle key={k} cx={557.5 + k * 11} cy={y + 20.5} r={1.9} fill={BLUE} />
      ))}
      <text x={615} y={y + 28.5} fontFamily={SANS} fontSize={23.8} fill="#000">
        {`CPI (Nov=${cpiLatest[idx]})`}
      </text>
      <line x1={556} x2={602} y1={y + 49} y2={y + 49} stroke={BLUE} strokeWidth={4} />
      <text x={615} y={y + 57} fontFamily={SANS} fontSize={23.8} fill="#000">
        {`PCED (Nov=${pcedLatest[idx]})`}
      </text>
      <text x={253.5} y={giBaselines[idx]} textAnchor="middle" fontFamily={SANS} fontSize={24} fill="#000">
        The Great Inflation
      </text>
    </g>
  );
}

export default function App() {
  return (
    <div style={{ position: "absolute", left: 0, top: 0, width: W, height: PAGE_H, background: "#fff", overflow: "hidden" }}>
      {[0, 1, 2, 3, 4].map((i) => (
        <Panel key={i} idx={i} />
      ))}
      <svg width={W} height={PAGE_H} style={{ position: "absolute", left: 0, top: 0, pointerEvents: "none" }}>
        <rect x={57} y={18} width={329} height={81} fill="#fff" stroke="#000" strokeWidth={2} />
        <text x={221.5} y={53.5} textAnchor="middle" fontFamily={SANS} fontWeight="bold" fontSize={26.5} fill="#000">
          CONSUMER INFLATION
        </text>
        <text x={221.5} y={80.5} textAnchor="middle" fontFamily={SANS} fontWeight="bold" fontSize={26.5} fill="#000">
          (yearly percent change)
        </text>
        {[0, 1, 2, 3, 4].map((i) => (
          <Legend key={i} idx={i} />
        ))}
        <text
          transform="translate(1331,1425) rotate(90)"
          textAnchor="middle"
          dy="0.35em"
          fontFamily={SERIF}
          fontWeight="bold"
          fontSize={22}
          fill="#000"
        >
          yardeni.com
        </text>
      </svg>
    </div>
  );
}
